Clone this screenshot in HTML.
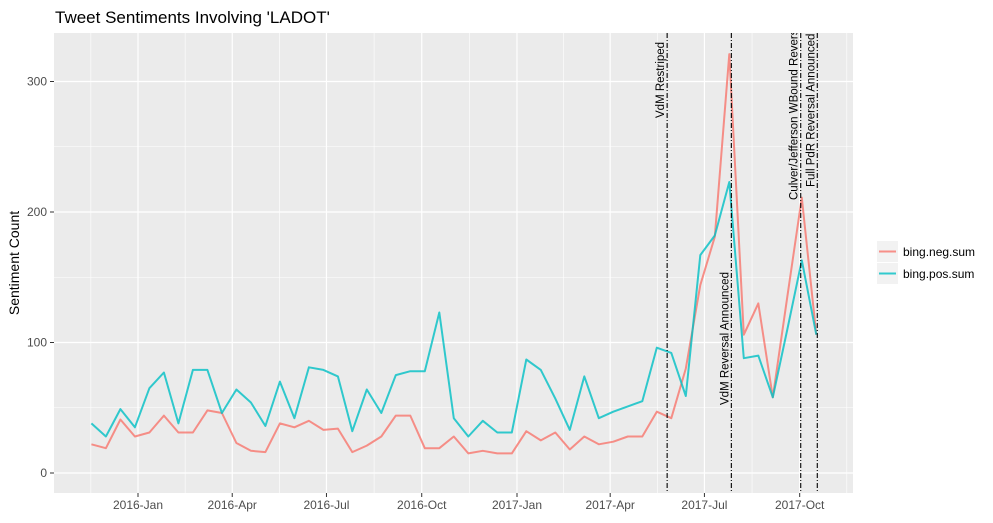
<!DOCTYPE html>
<html><head><meta charset="utf-8"><style>
body{margin:0;background:#fff;font-family:"Liberation Sans",sans-serif}
svg text{font-family:"Liberation Sans",sans-serif}
</style></head><body>
<svg id="c" width="993" height="518" xmlns="http://www.w3.org/2000/svg">
<defs><clipPath id="pc"><rect x="54" y="33" width="799" height="460"/></clipPath></defs>
<text x="55" y="23" font-size="17" fill="#000">Tweet Sentiments Involving 'LADOT'</text>
<text transform="translate(19,263) rotate(-90)" text-anchor="middle" font-size="14">Sentiment Count</text>
</svg>
<script>
const startDate = "2015-11-17";
const stepDays = 14;
const negValues = [22,19,41,28,31,44,31,31,48,46,23,17,16,38,35,40,33,34,16,21,28,44,44,19,19,28,15,17,15,15,32,25,31,18,28,22,24,28,28,47,42,80,144,181,321,106,130,58,135,211,106];
const posValues = [38,28,49,35,65,77,38,79,79,46,64,54,36,70,42,81,79,74,32,64,46,75,78,78,123,42,28,40,31,31,87,79,57,33,74,42,47,51,55,96,92,59,167,182,223,88,90,58,110,163,106];
const eventDates = ["2017-05-26","2017-07-27","2017-10-02","2017-10-18"];
const eventLabels = ["VdM Restriped","VdM Reversal Announced","Culver/Jefferson WBound Reversal","Full PdR Reversal Announced"];
const xTickDates = ["2016-01-01","2016-04-01","2016-07-01","2016-10-01","2017-01-01","2017-04-01","2017-07-01","2017-10-01"];
const xTickLabels = ["2016-Jan","2016-Apr","2016-Jul","2016-Oct","2017-Jan","2017-Apr","2017-Jul","2017-Oct"];
const yTicks = [0,100,200,300];

const svg = document.getElementById('c');
const NS = "http://www.w3.org/2000/svg";
const P = {l:54,t:33,r:853,b:493};
const base = Date.UTC(2016,0,1);
function dayOf(s){const [y,m,d]=s.split('-').map(Number);return (Date.UTC(y,m-1,d)-base)/86400000;}
function xs(day){return 138 + day*1.0355;}
function ys(v){return 473 - v*1.305;}
function mk(tag,attrs,parent){const e=document.createElementNS(NS,tag);for(const k in attrs)e.setAttribute(k,attrs[k]);(parent||svg).appendChild(e);return e;}

const panel = mk('rect',{x:P.l,y:P.t,width:P.r-P.l,height:P.b-P.t,fill:'#ebebeb'});



const tickX = xTickDates.map(d=>xs(dayOf(d)));
const minorX = [tickX[0]-(tickX[1]-tickX[0])/2];
for(let i=0;i<tickX.length-1;i++) minorX.push((tickX[i]+tickX[i+1])/2);
minorX.push(tickX[tickX.length-1]+(tickX[1]-tickX[0])/2);
minorX.forEach(x=>{const l=mk('line',{x1:x,x2:x,y1:P.t,y2:P.b,stroke:'#fff','stroke-width':0.6});

});
[50,150,250].forEach(v=>{const l=mk('line',{x1:P.l,x2:P.r,y1:ys(v),y2:ys(v),stroke:'#fff','stroke-width':0.6});

});
tickX.forEach((x,i)=>{
 const l=mk('line',{x1:x,x2:x,y1:P.t,y2:P.b,stroke:'#fff','stroke-width':1.2});
 
 
 mk('line',{x1:x,x2:x,y1:P.b,y2:P.b+4,stroke:'#333','stroke-width':1});
 const t=mk('text',{x:x,y:P.b+16,'text-anchor':'middle','font-size':12,fill:'#4d4d4d'});
 t.textContent=xTickLabels[i];
 
 
});
yTicks.forEach(v=>{
 const y=ys(v);
 const l=mk('line',{x1:P.l,x2:P.r,y1:y,y2:y,stroke:'#fff','stroke-width':1.2});
 
 
 mk('line',{x1:P.l-4,x2:P.l,y1:y,y2:y,stroke:'#333','stroke-width':1});
 const t=mk('text',{x:P.l-7,y:y+4,'text-anchor':'end','font-size':12,fill:'#4d4d4d'});
 t.textContent=v;
 
 
});
const d0 = dayOf(startDate);
function line(vals,color,name){
 const pts=vals.map((v,i)=>xs(d0+i*stepDays).toFixed(1)+','+ys(v).toFixed(1)).join(' ');
 const p=mk('polyline',{points:pts,fill:'none',stroke:color,'stroke-width':2,'stroke-linejoin':'round','stroke-opacity':0.8});
 
 
}
line(negValues,'#f8766d','neg-sum-line');
line(posValues,'#00bfc4','pos-sum-line');
const labelBottoms = [118,405,200,187];
const labelGroup = mk('g',{'clip-path':'url(#pc)'});


eventDates.forEach((d,i)=>{
 const x=xs(dayOf(d));
 const l=mk('line',{x1:x,x2:x,y1:P.t,y2:P.b,stroke:'#000','stroke-width':1.1,'stroke-dasharray':'5,2,1,2'});
 
 
 const t=mk('text',{transform:`translate(${x-3},${labelBottoms[i]}) rotate(-90)`,'text-anchor':'start','font-size':11.5,fill:'#000'},labelGroup);
 t.textContent=eventLabels[i];
 
 
});
const leg=[['bing.neg.sum','#f8766d'],['bing.pos.sum','#00bfc4']];
leg.forEach((e,i)=>{
 const y=241+i*22;
 const r=mk('rect',{x:877,y:y,width:21,height:21,fill:'#f2f2f2'});
 
 
 mk('line',{x1:879,x2:896,y1:y+10.5,y2:y+10.5,stroke:e[1],'stroke-width':2,'stroke-opacity':0.8});
 const t=mk('text',{x:903,y:y+15,'font-size':12,fill:'#000'});
 t.textContent=e[0];
 
 
});
</script>
</body></html>
